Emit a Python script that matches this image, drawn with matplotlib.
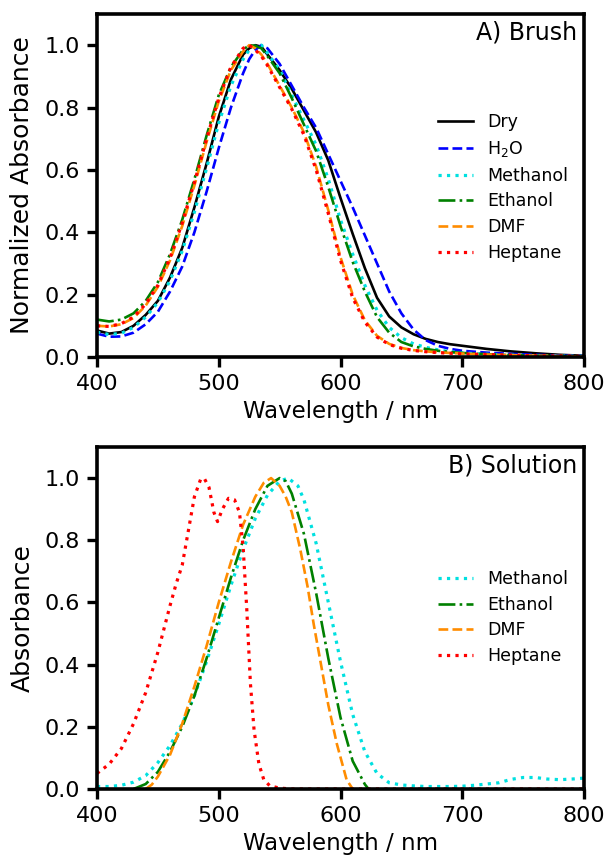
import matplotlib
matplotlib.use("Agg")
import matplotlib.pyplot as plt

# ---- A) Brush: normalized absorbance ----------------------------------- #
wl_a = [400, 410, 420, 430, 440, 450, 460, 470, 480, 490, 500, 510, 520, 525,
        530, 535, 540, 550, 560, 570, 580, 590, 600, 610, 620, 630, 640, 650,
        660, 670, 680, 690, 700, 720, 740, 760, 780, 800]
dry_a = [0.085, 0.075, 0.080, 0.100, 0.135, 0.180, 0.255, 0.350, 0.480, 0.620,
         0.770, 0.890, 0.970, 0.990, 1.000, 0.995, 0.970, 0.920, 0.860, 0.790,
         0.720, 0.630, 0.510, 0.395, 0.285, 0.190, 0.130, 0.095, 0.073, 0.058,
         0.048, 0.041, 0.036, 0.026, 0.018, 0.012, 0.007, 0.004]
h2o_a = [0.075, 0.065, 0.066, 0.078, 0.105, 0.145, 0.210, 0.290, 0.400, 0.530,
         0.670, 0.800, 0.910, 0.955, 0.985, 1.000, 0.990, 0.940, 0.870, 0.800,
         0.735, 0.650, 0.565, 0.480, 0.390, 0.300, 0.210, 0.140, 0.088, 0.054,
         0.036, 0.026, 0.020, 0.014, 0.010, 0.007, 0.005, 0.003]
meoh_a = [0.080, 0.072, 0.076, 0.095, 0.128, 0.175, 0.245, 0.340, 0.465, 0.605,
          0.750, 0.870, 0.955, 0.985, 0.997, 1.000, 0.975, 0.920, 0.840, 0.760,
          0.680, 0.570, 0.440, 0.330, 0.230, 0.150, 0.095, 0.062, 0.042, 0.031,
          0.023, 0.017, 0.013, 0.009, 0.006, 0.004, 0.003, 0.002]
etoh_a = [0.120, 0.114, 0.120, 0.140, 0.180, 0.240, 0.330, 0.440, 0.570, 0.710,
          0.840, 0.930, 0.985, 1.000, 0.998, 0.990, 0.965, 0.910, 0.830, 0.745,
          0.660, 0.545, 0.420, 0.305, 0.210, 0.128, 0.078, 0.048, 0.034, 0.026,
          0.020, 0.016, 0.013, 0.009, 0.006, 0.004, 0.003, 0.002]
dmf_a = [0.100, 0.098, 0.105, 0.125, 0.165, 0.225, 0.310, 0.420, 0.550, 0.690,
         0.820, 0.920, 0.980, 1.000, 0.990, 0.970, 0.940, 0.870, 0.800, 0.720,
         0.610, 0.470, 0.320, 0.200, 0.118, 0.068, 0.042, 0.029, 0.022, 0.018,
         0.015, 0.013, 0.011, 0.008, 0.006, 0.004, 0.003, 0.002]
hept_a = [0.100, 0.098, 0.107, 0.128, 0.170, 0.230, 0.318, 0.430, 0.560, 0.700,
          0.830, 0.930, 0.990, 1.000, 0.985, 0.965, 0.935, 0.865, 0.795, 0.712,
          0.600, 0.460, 0.310, 0.190, 0.112, 0.064, 0.040, 0.028, 0.021, 0.017,
          0.014, 0.012, 0.010, 0.008, 0.006, 0.004, 0.003, 0.002]

# ---- B) Solution: absorbance ------------------------------------------ #
wl_meoh_b = [400, 410, 420, 430, 440, 450, 460, 470, 480, 490, 500, 510, 520,
             530, 540, 550, 557, 565, 570, 580, 590, 600, 610, 620, 630, 640,
             650, 660, 670, 680, 690, 700, 710, 720, 730, 740, 750, 760, 770,
             780, 790, 800]
meoh_b = [0.008, 0.008, 0.012, 0.022, 0.043, 0.085, 0.140, 0.210, 0.300, 0.410,
          0.530, 0.655, 0.770, 0.870, 0.945, 0.990, 1.000, 0.975, 0.930, 0.790,
          0.600, 0.410, 0.240, 0.120, 0.050, 0.020, 0.013, 0.010, 0.008, 0.008,
          0.008, 0.009, 0.012, 0.016, 0.020, 0.031, 0.037, 0.037, 0.032, 0.030,
          0.032, 0.035]
wl_etoh_b = [430, 440, 450, 460, 470, 480, 490, 500, 510, 520, 530, 540, 550,
             555, 560, 570, 580, 590, 600, 610, 620, 623]
etoh_b = [0.000, 0.016, 0.055, 0.120, 0.200, 0.300, 0.420, 0.550, 0.680, 0.800,
          0.900, 0.975, 1.000, 0.990, 0.950, 0.820, 0.630, 0.420, 0.230, 0.090,
          0.015, 0.000]
wl_dmf_b = [440, 445, 450, 460, 470, 480, 490, 500, 510, 520, 530, 537, 543,
            550, 555, 560, 567, 573, 578, 584, 590, 597, 605, 610]
dmf_b = [0.000, 0.014, 0.040, 0.110, 0.210, 0.330, 0.460, 0.600, 0.730, 0.850,
         0.940, 0.985, 1.000, 0.975, 0.940, 0.890, 0.770, 0.650, 0.530, 0.400,
         0.270, 0.145, 0.030, 0.000]
wl_hept_b = [400, 410, 420, 430, 440, 450, 460, 465, 470, 475, 480, 485, 488,
             492, 496, 499, 503, 508, 513, 517, 520, 523, 526, 529, 533, 537,
             542, 550, 560, 600, 700, 800]
hept_b = [0.050, 0.080, 0.130, 0.210, 0.310, 0.440, 0.590, 0.660, 0.720, 0.830,
          0.940, 0.995, 1.000, 0.970, 0.890, 0.860, 0.900, 0.935, 0.930, 0.890,
          0.780, 0.580, 0.340, 0.190, 0.080, 0.030, 0.010, 0.003, 0.000, 0.000,
          0.000, 0.000]

plt.rcParams["font.family"] = "DejaVu Sans"

W, H = 608, 858
fig = plt.figure(figsize=(W / 100, H / 100), dpi=100)
# axes boxes placed in pixels
ax1 = fig.add_axes([97 / W, 1 - 357 / H, 487 / W, 343 / H])
ax2 = fig.add_axes([97 / W, 1 - 789 / H, 487 / W, 342 / H])

lw = 1.9
lw_dot = 2.3
cyan = "#00e0e0"
ax1.plot(wl_a, dry_a, "-", color="black", lw=lw, label="Dry")
ax1.plot(wl_a, h2o_a, "--", color="blue", lw=lw, label="H$_2$O")
ax1.plot(wl_a, meoh_a, ":", color=cyan, lw=lw_dot, label="Methanol")
ax1.plot(wl_a, etoh_a, "-.", color="green", lw=lw, label="Ethanol")
ax1.plot(wl_a, dmf_a, "--", color="darkorange", lw=lw, label="DMF")
ax1.plot(wl_a, hept_a, ":", color="red", lw=lw_dot, label="Heptane")

ax2.plot(wl_meoh_b, meoh_b, ":", color=cyan, lw=lw_dot, label="Methanol")
ax2.plot(wl_etoh_b, etoh_b, "-.", color="green", lw=lw, label="Ethanol")
ax2.plot(wl_dmf_b, dmf_b, "--", color="darkorange", lw=lw, label="DMF")
ax2.plot(wl_hept_b, hept_b, ":", color="red", lw=lw_dot, label="Heptane")

for ax, ylab, tag, leg_y in ((ax1, "Normalized Absorbance", "A) Brush", 0.71),
                             (ax2, "Absorbance", "B) Solution", 0.64)):
    ax.set_xlim(400, 800)
    ax.set_ylim(0, 1.1)
    ax.set_xticks([400, 500, 600, 700, 800])
    ax.set_yticks([0.0, 0.2, 0.4, 0.6, 0.8, 1.0])
    ax.set_xlabel("Wavelength / nm", fontsize=16.5, labelpad=4)
    ax.set_ylabel(ylab, fontsize=18, labelpad=7)
    ax.tick_params(direction="out", length=7.5, width=2.4, labelsize=16, pad=5)
    for sp in ax.spines.values():
        sp.set_linewidth(2.6)
    ax.text(0.986, 0.945, tag, transform=ax.transAxes, ha="right",
            va="center", fontsize=17)
    ax.legend(loc="upper left", bbox_to_anchor=(0.70, leg_y), frameon=False,
              fontsize=12.5, borderpad=0, borderaxespad=0, handlelength=2.0,
              handletextpad=0.85, labelspacing=0.44)

fig.align_ylabels([ax1, ax2])
fig.savefig("out.png", dpi=100)
